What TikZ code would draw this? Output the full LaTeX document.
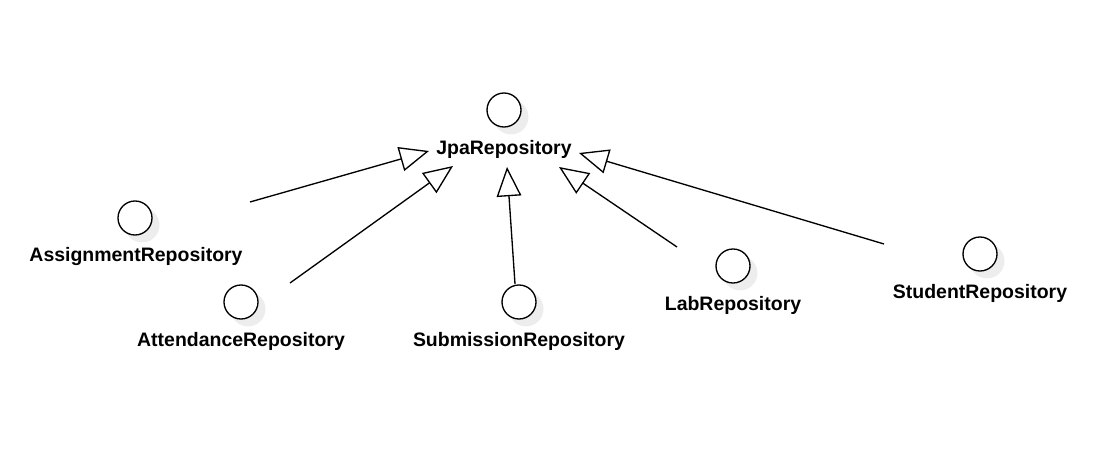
\documentclass[tikz,border=0pt]{standalone}
\usepackage{fontspec}
\setmainfont{Liberation Sans}
\usetikzlibrary{arrows.meta}

\begin{document}
\begin{tikzpicture}[x=0.75pt,y=-0.75pt,
    iface/.style={circle,draw,line width=1pt,fill=white,minimum size=25.5pt,inner sep=0pt},
    repo/.style={font=\bfseries\fontsize{14.6}{17}\selectfont,inner sep=0pt},
    realize/.style={line width=1pt,-{Triangle[open,length=22pt,width=18.5pt]}}]
    \useasboundingbox (0,0) rectangle (1098,459);
    % shadows
    \foreach \x/\y in {504/110,135/218,241/302,519/302,733/266,980/254}
      \fill[black!7] (\x+7,\y+7) circle (17.5);
    % interfaces
    \node[iface](jpa) at (504,110) {};
    \node[repo](jpaL) at (504,149) {JpaRepository};
    \node[iface](asg) at (135,218) {};
    \node[repo](asgL) at (136,257) {AssignmentRepository};
    \node[iface](att) at (241,302) {};
    \node[repo](attL) at (241,341) {AttendanceRepository};
    \node[iface](sub) at (519,302) {};
    \node[repo](subL) at (519,341) {SubmissionRepository};
    \node[iface](lab) at (733,266) {};
    \node[repo](labL) at (733,305) {LabRepository};
    \node[iface](stu) at (980,254) {};
    \node[repo](stuL) at (980,293) {StudentRepository};
    % connectors
    \coordinate (asgA) at (250,202);
    \coordinate (asgB) at (429,151);
    \coordinate (attA) at (290,283);
    \coordinate (attB) at (453,166);
    \coordinate (subA) at (515,284);
    \coordinate (subB) at (507,167);
    \coordinate (labA) at (677,247);
    \coordinate (labB) at (559,167);
    \coordinate (stuA) at (884,244);
    \coordinate (stuB) at (579,153);
    \draw[realize] (asgA) -- (asgB);
    \draw[realize] (attA) -- (attB);
    \draw[realize] (subA) -- (subB);
    \draw[realize] (labA) -- (labB);
    \draw[realize] (stuA) -- (stuB);
\end{tikzpicture}
\end{document}
